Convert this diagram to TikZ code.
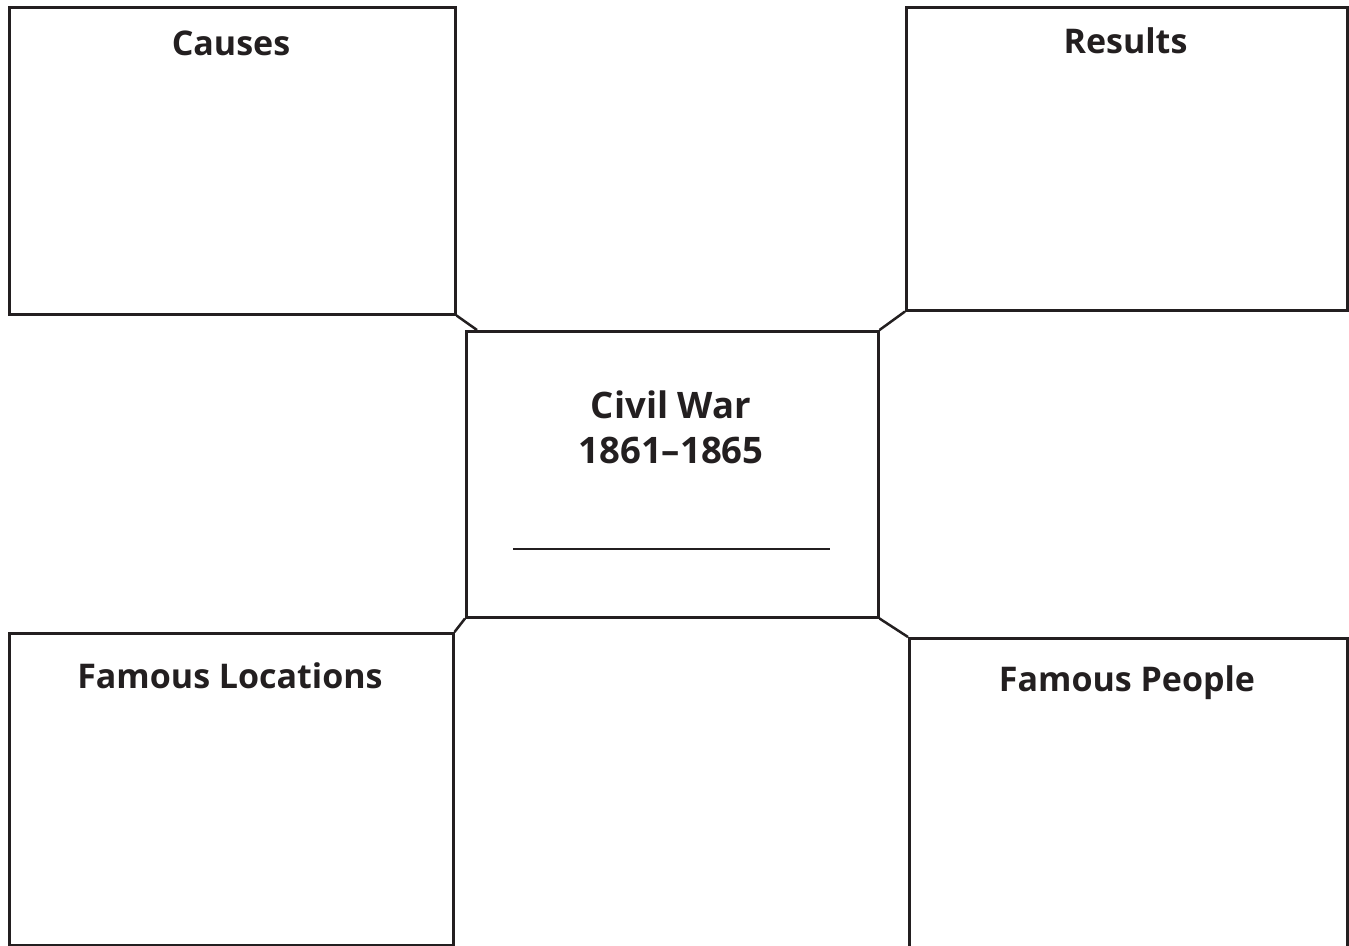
\documentclass[tikz,border=0pt]{standalone}
\usepackage{fontspec}
\setmainfont{Open Sans}
\usetikzlibrary{calc}
\definecolor{ink}{RGB}{35,31,32}
\begin{document}
\begin{tikzpicture}[x=1pt,y=-1pt,
  box/.style={draw=ink, line width=2.5pt, rectangle, inner sep=0pt, anchor=north west},
  title/.style={text=ink, font=\bfseries\fontsize{34}{40}\selectfont, anchor=base, inner sep=0pt},
  big/.style={text=ink, font=\bfseries\fontsize{36.5}{44}\selectfont, anchor=base, inner sep=0pt},
  link/.style={draw=ink, line width=2.5pt}]
\useasboundingbox (0,0) rectangle (1349,945);
\clip (0,0) rectangle (1349,945);
\node[box, minimum width=446pt, minimum height=307pt] (causes) at (8,6) {};
\node[box, minimum width=441pt, minimum height=303pt] (results) at (905,6) {};
\node[box, minimum width=412pt, minimum height=286pt] (center) at (465,330) {};
\node[box, minimum width=444pt, minimum height=312pt] (locations) at (8,632) {};
\node[box, minimum width=438pt, minimum height=330pt] (people) at (908,637) {};

\node[title] (tcauses) at (231,55) {Causes};
\node[title] (tresults) at (1125.5,53) {Results};
\node[title] (tlocations) at (230,688) {Famous Locations};
\node[title] (tpeople) at (1127,691) {Famous People};
\node[big] (tcivil) at (671,418) {Civil War};
\node[big] (tyears) at (671,463) {1861–1865};

\coordinate (blankL) at (513,549);
\coordinate (blankR) at (830,549);
\draw[ink, line width=2pt] (blankL) -- (blankR);

\coordinate (c1) at ($(center.north west)+(12,0)$);
\draw[link] (causes.south east) -- (c1);
\draw[link] (center.north east) -- (results.south west);
\draw[link] (center.south west) -- (locations.north east);
\draw[link] (center.south east) -- (people.north west);
\end{tikzpicture}
\end{document}
